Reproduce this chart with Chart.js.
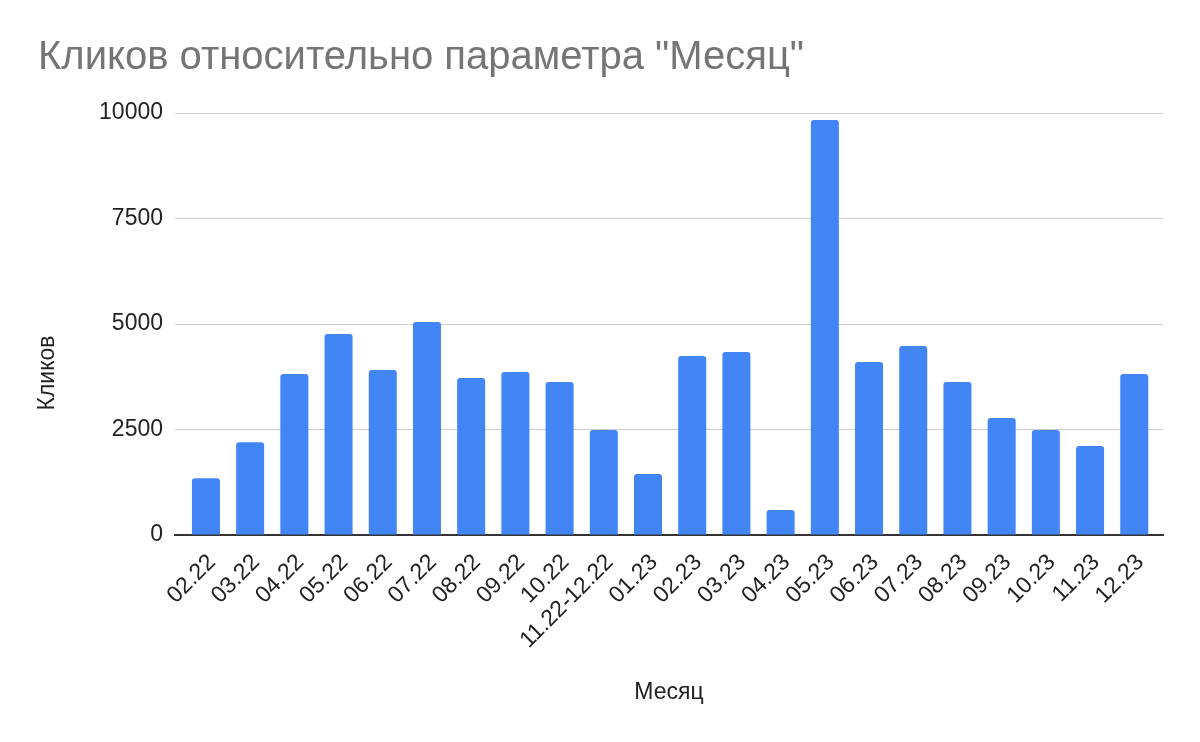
<!DOCTYPE html>
<html>
<head>
<meta charset="utf-8">
<script src="https://cdn.jsdelivr.net/npm/chart.js@4/dist/chart.umd.min.js"></script>
<style>
  html, body { margin: 0; padding: 0; background: #ffffff; }
  #wrap { width: 1200px; height: 742px; }
</style>
</head>
<body>
<div id="wrap"><canvas id="c" width="1200" height="742"></canvas></div>
<script>
const categories = ['02.22','03.22','04.22','05.22','06.22','07.22','08.22','09.22','10.22','11.22-12.22','01.23','02.23','03.23','04.23','05.23','06.23','07.23','08.23','09.23','10.23','11.23','12.23'];
const clicks = [1345, 2200, 3815, 4765, 3910, 5045, 3720, 3865, 3625, 2490, 1445, 4240, 4335, 590, 9835, 4100, 4480, 3625, 2775, 2490, 2110, 3815];
const yTickValues = [0, 2500, 5000, 7500, 10000];
const chartTitle = 'Кликов относительно параметра "Месяц"';
const xTitle = 'Месяц';
const yTitle = 'Кликов';

const FONT = '"Liberation Sans", Arial, sans-serif';

const yTitlePlugin = {
  id: 'yTitlePlugin',
  afterDraw(chart) {
    const ctx = chart.ctx;
    const a = chart.chartArea;
    ctx.save();
    ctx.font = '23px ' + FONT;
    ctx.fillStyle = '#222222';
    ctx.textAlign = 'center';
    ctx.textBaseline = 'middle';
    ctx.translate(a.left - 127, (a.top + a.bottom) / 2 + 49);
    ctx.rotate(-Math.PI / 2);
    ctx.fillText(yTitle, 0, 0);
    ctx.restore();
  }
};

new Chart(document.getElementById('c'), {
  type: 'bar',
  data: {
    datasets: [{
      label: yTitle,
      data: clicks.map((v, i) => ({ x: i, y: v })),
      backgroundColor: '#4285F4',
      borderRadius: { topLeft: 3, topRight: 3, bottomLeft: 0, bottomRight: 0 },
      borderSkipped: 'start',
      categoryPercentage: 1,
      barPercentage: 0.634
    }]
  },
  options: {
    responsive: false,
    animation: false,
    layout: { padding: { left: 38, right: 37, top: 0, bottom: 0 } },
    plugins: {
      legend: { display: false },
      tooltip: { enabled: false },
      title: {
        display: true,
        text: chartTitle,
        align: 'start',
        color: '#757575',
        font: { family: FONT, size: 40, weight: 'normal', lineHeight: 1.2 },
        padding: { top: 34, bottom: 31 }
      }
    },
    scales: {
      x: {
        type: 'linear',
        offset: false,
        min: -0.7,
        max: 21.65,
        z: 1,
        grid: { display: false, offset: false },
        border: { display: true, color: '#333333', width: 2 },
        ticks: {
          stepSize: 1,
          includeBounds: false,
          autoSkip: false,
          minRotation: 45,
          maxRotation: 45,
          padding: 6,
          labelOffset: 6,
          color: '#222222',
          font: { family: FONT, size: 23 },
          callback: (v) => Number.isInteger(v) && categories[v] !== undefined ? categories[v] : ''
        },
        title: {
          display: true,
          text: xTitle,
          color: '#222222',
          font: { family: FONT, size: 23 },
          padding: { top: 0, bottom: 36 }
        },
        afterFit(scale) { scale.height = 207; }
      },
      y: {
        min: 0,
        max: 10000,
        grid: { color: '#cccccc', lineWidth: 1, drawTicks: false },
        border: { display: false },
        afterBuildTicks(scale) { scale.ticks = yTickValues.map(v => ({ value: v })); },
        ticks: {
          padding: 12,
          color: '#222222',
          font: { family: FONT, size: 23 },
          callback: (v) => String(v)
        },
        afterFit(scale) { scale.width = 137; }
      }
    }
  },
  plugins: [yTitlePlugin]
});
</script>
</body>
</html>
